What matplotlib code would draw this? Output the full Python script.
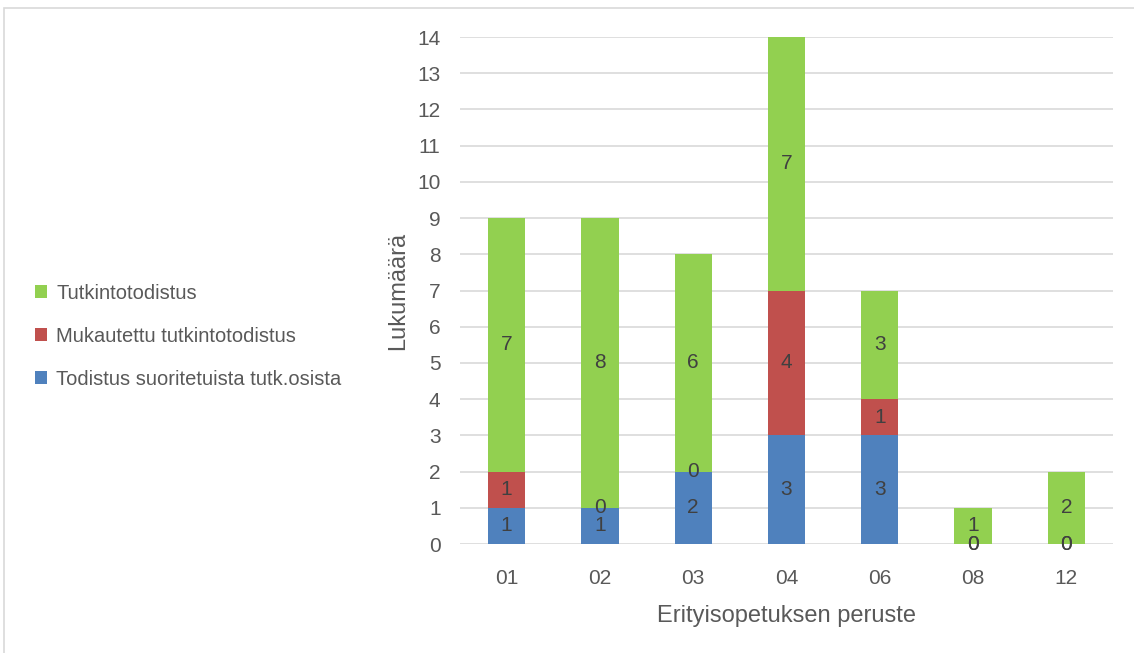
import numpy as np
import matplotlib.pyplot as plt
from matplotlib.patches import Rectangle

plt.rcParams['font.family'] = ['Liberation Sans Narrow', 'Liberation Sans', 'DejaVu Sans']

categories = ['01', '02', '03', '04', '06', '08', '12']
todistus_osista = [1, 1, 2, 3, 3, 0, 0]
mukautettu = [1, 0, 0, 4, 1, 0, 0]
tutkintotodistus = [7, 8, 6, 7, 3, 1, 2]

series = [
    ('Todistus suoritetuista tutk.osista', todistus_osista, '#4f81bd'),
    ('Mukautettu tutkintotodistus', mukautettu, '#c0504d'),
    ('Tutkintotodistus', tutkintotodistus, '#92d050'),
]

txt = '#595959'
fig = plt.figure(figsize=(11.34, 6.53), dpi=100)
ax = fig.add_axes([0.4056, 0.1669, 0.5759, 0.7764])

x = np.arange(len(categories))
bottom = np.zeros(len(categories))
handles = []
for name, vals, col in series:
    vals = np.array(vals)
    b = ax.bar(x, vals, 0.4, bottom=bottom, color=col, label=name, zorder=3)
    handles.append(b)
    for xi, v, bt in zip(x, vals, bottom):
        ax.text(xi, bt + v / 2, str(v), ha='center', va='center',
                fontsize=15, color='#404040', zorder=4)
    bottom = bottom + vals

ax.set_xlim(-0.5, len(categories) - 0.5)
ax.set_ylim(0, 14)
ax.set_yticks(range(0, 15))
ax.set_xticks(x)
ax.set_xticklabels(categories)
ax.tick_params(length=0, labelsize=15, colors=txt)
ax.tick_params(axis='y', pad=14)
ax.tick_params(axis='x', pad=18)
ax.grid(axis='y', color='#d9d9d9', linewidth=1.2, zorder=0)
for s in ax.spines.values():
    s.set_visible(False)
ax.set_ylabel('Lukumäärä', fontsize=17, color=txt, labelpad=6)
ax.set_xlabel('Erityisopetuksen peruste', fontsize=17, color=txt, labelpad=12)

fig.legend(handles[::-1], [s[0] for s in series][::-1], loc='center left',
           bbox_to_anchor=(0.015, 0.485), frameon=False, fontsize=14.5,
           labelcolor=txt, handlelength=0.6, handleheight=0.6,
           handletextpad=0.45, labelspacing=1.2)

fig.patches.append(Rectangle((0.0035, -0.01), 1.1, 0.998, transform=fig.transFigure,
                             fill=False, edgecolor='#d9d9d9', linewidth=1.2))

fig.savefig('out.png', dpi=100)
